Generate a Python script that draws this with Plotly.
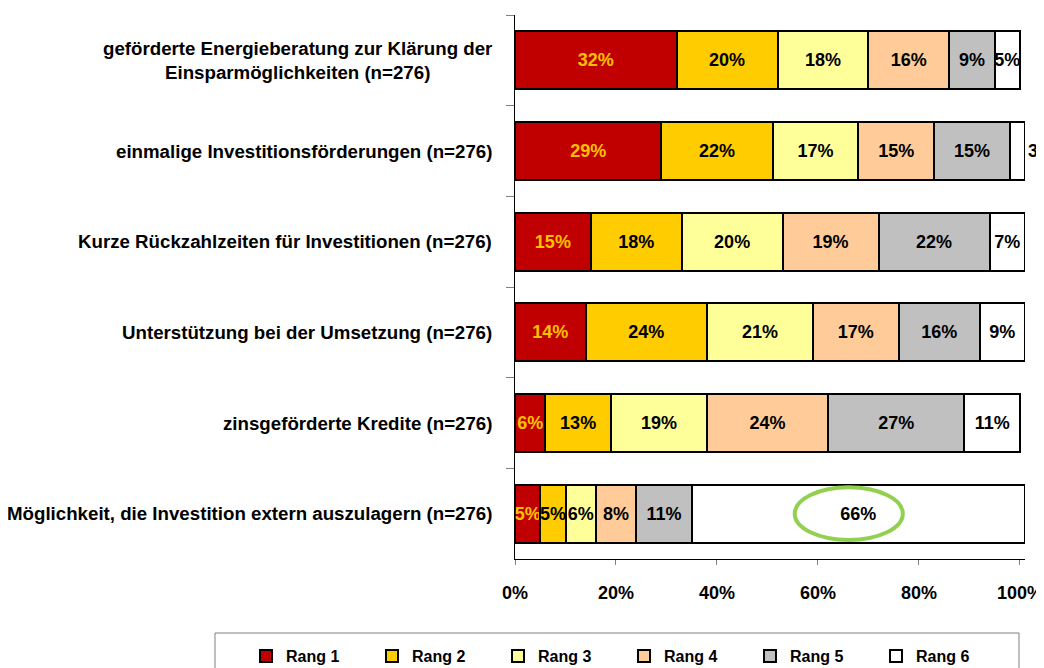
import plotly.graph_objects as go

categories = [
    "geförderte Energieberatung zur Klärung der<br>Einsparmöglichkeiten (n=276)",
    "einmalige Investitionsförderungen (n=276)",
    "Kurze Rückzahlzeiten für Investitionen (n=276)",
    "Unterstützung bei der Umsetzung (n=276)",
    "zinsgeförderte Kredite (n=276)",
    "Möglichkeit, die Investition extern auszulagern (n=276)",
]
series_names = ["Rang 1", "Rang 2", "Rang 3", "Rang 4", "Rang 5", "Rang 6"]
rang1 = [32, 29, 15, 14, 6, 5]
rang2 = [20, 22, 18, 24, 13, 5]
rang3 = [18, 17, 20, 21, 19, 6]
rang4 = [16, 15, 19, 17, 24, 8]
rang5 = [9, 15, 22, 16, 27, 11]
rang6 = [5, 3, 7, 9, 11, 66]
series_values = [rang1, rang2, rang3, rang4, rang5, rang6]
x_ticks = [0, 20, 40, 60, 80, 100]

colors = ["#C00000", "#FFCC00", "#FFFF99", "#FFCC99", "#C0C0C0", "#FFFFFF"]
text_colors = ["#FFC000", "#000000", "#000000", "#000000", "#000000", "#000000"]
FONT = "Liberation Sans, Arial, sans-serif"

# figure is placed at page offset (8, 8) by the default body margin
W, H = 1036, 660
L, T, B_PX, R_PX = 507, 7, 551, 1017  # plot area edges in figure pixels
PW, PH = R_PX - L, B_PX - T

fig = go.Figure()
ids = list(range(len(categories)))
for name, vals, col, tcol in zip(series_names, series_values, colors, text_colors):
    if name == "Rang 6":
        tpos = ["outside" if v < 4 else "inside" for v in vals]
    else:
        tpos = "inside"
    tf = dict(family=FONT, size=18, color=tcol, weight="bold")
    fig.add_trace(go.Bar(
        name=name, y=ids, x=vals, orientation="h",
        marker=dict(color=col, line=dict(color="#000000", width=2)),
        text=[f"{v}%" for v in vals], texttemplate="%{text}",
        textposition=tpos, insidetextanchor="middle", textangle=0,
        constraintext="none", cliponaxis=False,
        textfont=tf, outsidetextfont=tf, insidetextfont=tf,
        hoverinfo="skip",
    ))

# Category labels (centered multi-line, right-anchored next to axis)
for i, cat in enumerate(categories):
    fig.add_annotation(
        x=0, xref="paper", y=i, yref="y", text=cat, showarrow=False,
        xanchor="right", yanchor="middle", align="center", xshift=-21,
        font=dict(family=FONT, size=18.7, color="#000000", weight="bold"),
    )

# Highlight ellipse around the largest value
fig.add_shape(type="circle", xref="x", yref="y",
              x0=55.4, x1=76.8, y0=5 - 0.29, y1=5 + 0.29,
              line=dict(color="#92D050", width=4))

# Legend frame
fig.add_shape(type="rect", xref="paper", yref="paper",
              x0=(207 - L) / PW, x1=(1011 - L) / PW,
              y0=-(690 - B_PX) / PH, y1=-(625 - B_PX) / PH,
              line=dict(color="#808080", width=1), fillcolor="rgba(0,0,0,0)")

fig.update_layout(
    width=W, height=H,
    margin=dict(l=L, r=W - R_PX, t=T, b=H - B_PX, autoexpand=False),
    barmode="stack", bargap=0.36,
    plot_bgcolor="#FFFFFF", paper_bgcolor="#FFFFFF",
    font=dict(family=FONT, color="#000000"),
    showlegend=True,
    legend=dict(
        orientation="h", x=(238 - L) / PW, xanchor="left",
        y=-(631 - B_PX) / PH, yanchor="top",
        entrywidth=81, entrywidthmode="pixels", itemwidth=30,
        font=dict(family=FONT, size=16, color="#000000", weight="bold"),
        bgcolor="rgba(0,0,0,0)", traceorder="normal",
    ),
    xaxis=dict(
        range=[0, 101], tickvals=x_ticks, ticktext=[f"{t}%" for t in x_ticks],
        showgrid=False, zeroline=False, showline=True, linecolor="#000000",
        linewidth=1, ticks="outside", ticklen=5, tickcolor="#808080",
        tickfont=dict(family=FONT, size=18, color="#000000", weight="bold"),
        ticklabelstandoff=12, automargin=False,
    ),
    yaxis=dict(
        type="linear", range=[5.5, -0.5], tickvals=[i + 0.5 for i in ids[:-1]] + [-0.5],
        showticklabels=False, showgrid=False, zeroline=False,
        showline=True, linecolor="#000000", linewidth=1,
        ticks="outside", ticklen=8, tickcolor="#808080", automargin=False,
    ),
)

fig.write_html("out.html")
